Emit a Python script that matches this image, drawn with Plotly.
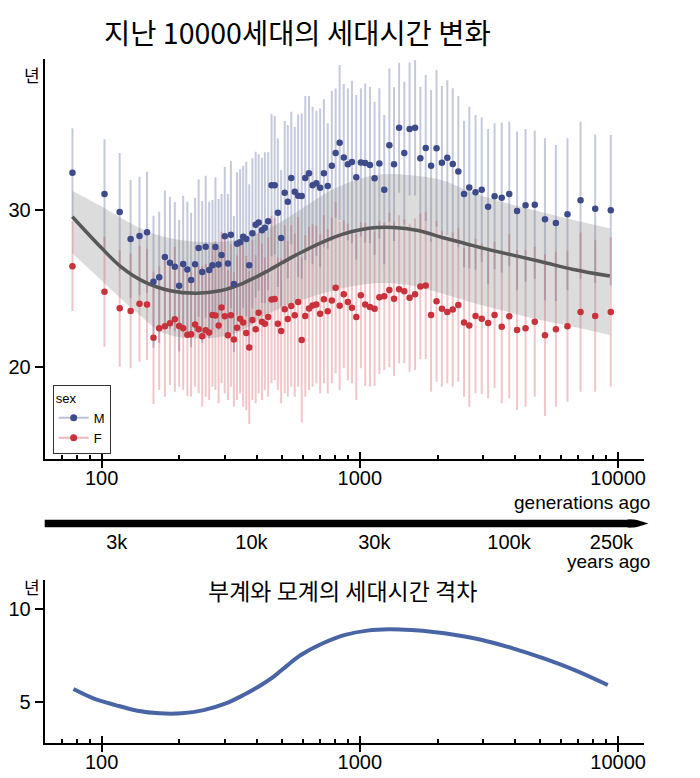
import math
import plotly.graph_objects as go

# ---------------- data ----------------
generations = [77.1, 102.6, 117.5, 129.5, 140.2, 149.9, 158.8, 167.1, 175.8, 183.9,
               192.1, 199.6, 206.9, 214.8, 222.1, 230.1, 237.5, 245.2, 253.0, 260.9,
               268.7, 275.9, 283.8, 291.4, 299.8, 308.4, 316.7, 325.2, 334.5, 343.8,
               353.3, 363.2, 372.9, 383.6, 394.9, 405.6, 417.5, 428.7, 441.5, 455.0,
               468.0, 481.4, 495.7, 511.7, 525.9, 542.5, 559.6, 576.6, 595.3, 614.5,
               635.5, 656.0, 678.5, 701.7, 725.6, 750.9, 778.8, 805.9, 835.0, 866.5,
               898.6, 931.8, 968.7, 1009, 1049, 1094, 1140, 1190, 1243, 1301,
               1356, 1419, 1486, 1558, 1636, 1715, 1799, 1887, 1981, 2078,
               2181, 2289, 2406, 2532, 2653, 2805, 2964, 3138, 3324, 3543,
               3789, 4062, 4381, 4756, 5209, 5741, 6366, 7154, 8152, 9367]

male_gt = [32.38, 31.02, 29.87, 28.15, 28.34, 28.58, 25.42, 25.70, 27.00, 26.63,
           26.38, 25.16, 26.55, 26.20, 25.53, 26.54, 27.57, 26.04, 27.65, 26.17,
           26.47, 27.64, 26.52, 27.12, 28.32, 26.58, 28.42, 25.27, 27.85, 27.94,
           28.29, 28.15, 26.47, 28.51, 29.06, 29.21, 28.70, 28.87, 29.28, 31.58,
           31.58, 29.83, 28.21, 31.11, 30.53, 32.04, 31.17, 30.91, 30.89, 32.04,
           32.35, 31.58, 31.71, 31.42, 32.35, 31.53, 32.83, 33.64, 34.30, 33.35,
           32.92, 33.07, 32.09, 33.04, 33.00, 32.88, 32.03, 32.97, 31.30, 34.14,
           32.93, 35.26, 33.64, 35.18, 35.26, 33.30, 33.96, 32.83, 33.94, 33.02,
           33.34, 32.94, 32.46, 31.02, 31.44, 31.13, 31.30, 30.21, 30.88, 30.79,
           31.02, 29.94, 30.30, 30.34, 29.41, 29.17, 29.73, 30.62, 30.08, 29.98]

male_err = [2.84, 3.50, 3.77, 3.77, 3.79, 3.87, 4.22, 4.19, 4.24, 4.22,
            4.13, 4.20, 4.36, 4.33, 4.30, 4.25, 4.39, 4.54, 4.54, 4.36,
            4.17, 4.45, 4.19, 3.90, 4.45, 4.44, 4.71, 4.35, 4.56, 4.66,
            4.54, 4.94, 5.18, 4.79, 4.66, 4.36, 4.64, 4.82, 4.41, 4.54,
            4.43, 4.75, 4.35, 4.58, 4.90, 4.24, 4.15, 5.20, 5.28, 5.24,
            4.94, 5.02, 4.64, 5.07, 4.73, 4.01, 4.79, 4.13, 4.96, 4.70,
            4.86, 5.19, 5.26, 4.74, 5.09, 5.00, 4.89, 4.81, 4.77, 4.91,
            4.91, 4.15, 4.56, 4.24, 4.33, 4.58, 4.66, 4.84, 5.00, 4.90,
            4.96, 4.84, 4.82, 4.68, 5.16, 4.94, 4.63, 4.96, 4.66, 4.79,
            4.62, 5.07, 4.88, 4.73, 5.18, 4.98, 4.86, 5.02, 4.75, 4.81]

female_gt = [26.40, 24.78, 23.72, 23.55, 24.01, 23.97, 21.83, 22.45, 22.57, 22.77,
             23.02, 22.59, 22.44, 22.03, 22.06, 22.68, 22.38, 21.93, 22.31, 22.17,
             23.29, 23.26, 22.62, 23.77, 23.21, 21.99, 23.27, 21.73, 22.48, 23.05,
             22.81, 22.14, 21.21, 22.97, 22.38, 23.44, 22.86, 22.73, 23.16, 24.28,
             24.31, 22.73, 22.27, 23.66, 23.04, 23.87, 23.28, 24.13, 21.69, 23.23,
             23.71, 23.90, 23.96, 23.37, 24.30, 23.53, 24.22, 25.04, 23.88, 24.62,
             24.12, 23.76, 23.16, 24.56, 23.96, 23.80, 23.69, 24.42, 24.49, 24.89,
             24.33, 24.93, 24.81, 24.40, 24.62, 25.12, 25.18, 23.29, 24.17, 23.69,
             23.48, 23.64, 23.93, 22.82, 22.62, 23.23, 23.05, 22.78, 23.29, 22.54,
             23.21, 22.33, 22.44, 22.86, 21.99, 22.38, 22.57, 23.48, 23.23, 23.48]

female_err = [2.86, 3.51, 3.73, 3.66, 3.71, 3.56, 4.23, 3.95, 4.50, 3.95,
              4.63, 3.88, 3.94, 3.92, 3.99, 3.97, 4.09, 4.50, 4.24, 4.31,
              4.58, 4.76, 4.97, 4.84, 4.93, 4.13, 4.56, 4.29, 4.62, 4.77,
              5.38, 4.92, 4.89, 5.11, 4.73, 5.15, 5.00, 4.24, 5.09, 5.35,
              5.18, 4.23, 4.62, 5.37, 4.96, 5.16, 5.21, 5.42, 5.28, 5.16,
              5.21, 5.19, 5.04, 5.08, 5.37, 5.25, 5.29, 5.47, 5.39, 4.73,
              5.00, 4.83, 5.30, 4.67, 5.21, 5.09, 4.93, 4.90, 4.71, 4.94,
              4.94, 4.73, 4.60, 4.73, 4.84, 4.65, 4.70, 4.90, 5.14, 4.98,
              4.56, 4.93, 4.90, 4.75, 5.19, 4.94, 4.81, 4.81, 4.68, 4.89,
              5.24, 5.11, 5.01, 4.79, 5.16, 4.95, 4.82, 5.09, 4.84, 4.77]

# smoothed average of both sexes and its confidence band
mean_gen = [77, 100, 118.6, 145.7, 184.5, 233.3, 287, 352.6, 446.7, 565,
            802, 1081, 1348, 1681, 2122, 2693, 3215, 5002, 6713, 9286]
mean_gt = [29.57, 27.57, 26.38, 25.42, 24.84, 24.68, 24.84, 25.32, 26.17, 27.12,
           28.29, 28.83, 28.89, 28.69, 28.21, 27.76, 27.44, 26.71, 26.20, 25.78]

band_gen = [76.9, 102.3, 137.3, 173.9, 233.3, 332.5, 446.7, 599, 803, 1146,
            1537, 2067, 2776, 3725, 5002, 6713, 9286]
band_hi = [31.23, 30.13, 28.93, 28.29, 27.97, 28.08, 28.83, 30.11, 31.39, 32.24,
           32.24, 31.92, 31.07, 30.43, 29.89, 29.36, 28.83]
band_lo = [27.25, 25.34, 23.42, 22.14, 21.80, 22.14, 23.40, 24.25, 24.89, 25.32,
           25.21, 24.68, 24.04, 23.50, 22.97, 22.54, 22.01]

# paternal - maternal generation-time gap
gap_gen = [77.8, 92.9, 113.2, 137.7, 167.7, 204.2, 248.5, 302.7, 354.2, 415,
           466.7, 525.5, 590.9, 719.6, 876.6, 1068, 1299, 1582, 1927, 2344,
           2972, 3911, 5152, 6790, 9120]
gap_years = [5.68, 5.18, 4.82, 4.52, 4.38, 4.38, 4.55, 4.91, 5.36, 5.90,
             6.38, 6.97, 7.51, 8.14, 8.59, 8.82, 8.89, 8.85, 8.75, 8.59,
             8.32, 7.87, 7.33, 6.70, 5.90]

# ticks
gen_major_ticks = [100, 1000, 10000]
gen_major_labels = ["100", "1000", "10000"]
gen_minor_ticks = [70, 80, 90, 200, 300, 400, 500, 600, 700, 800, 900,
                   2000, 3000, 4000, 5000, 6000, 7000, 8000, 9000]
years_major = [3000, 10000, 30000, 100000, 250000]
years_major_labels = ["3k", "10k", "30k", "100k", "250k"]
years_minor = [2000, 4000, 5000, 6000, 7000, 8000, 9000,
               20000, 40000, 50000, 60000, 70000, 80000, 90000, 200000]
top_y_ticks = [20, 30]
gap_y_ticks = [5, 10]

# ---------------- styling ----------------
PAGE_W, PAGE_H, OFF = 700, 778, 8
W, H = PAGE_W - OFF, PAGE_H - OFF
M_COLOR = "#3e4b8a"
F_COLOR = "#c9323b"
M_BAR = "rgba(62,76,138,0.30)"
F_BAR = "rgba(205,50,60,0.28)"
BAND = "rgba(128,128,128,0.28)"
MEAN_COLOR = "#585858"
GAP_COLOR = "#4a65a6"
TXT = "Liberation Sans, Arial, sans-serif"
KR = "Noto Sans CJK KR, sans-serif"

def px_x(p):
    return (p - OFF) / W

def px_y(p):
    return (PAGE_H - p) / H

X_DOMAIN = [px_x(40), px_x(645)]
X_RANGE = [1.7797, 4.1021]
YEARS_RANGE = [3.1974, 5.5262]

fig = go.Figure()

# error bars (drawn under the band)
fig.add_trace(go.Scatter(
    x=generations, y=male_gt, mode="markers", xaxis="x", yaxis="y",
    marker=dict(size=1, color="rgba(0,0,0,0)"),
    error_y=dict(type="data", array=male_err, color=M_BAR, thickness=2, width=0),
    showlegend=False, hoverinfo="skip"))
fig.add_trace(go.Scatter(
    x=generations, y=female_gt, mode="markers", xaxis="x", yaxis="y",
    marker=dict(size=1, color="rgba(0,0,0,0)"),
    error_y=dict(type="data", array=female_err, color=F_BAR, thickness=2, width=0),
    showlegend=False, hoverinfo="skip"))

# confidence band
fig.add_trace(go.Scatter(
    x=band_gen, y=band_lo, mode="lines", xaxis="x", yaxis="y",
    line=dict(width=0, shape="spline", color="rgba(0,0,0,0)"),
    showlegend=False, hoverinfo="skip"))
fig.add_trace(go.Scatter(
    x=band_gen, y=band_hi, mode="lines", xaxis="x", yaxis="y",
    line=dict(width=0, shape="spline", color="rgba(0,0,0,0)"),
    fill="tonexty", fillcolor=BAND,
    showlegend=False, hoverinfo="skip"))

# mean curve
fig.add_trace(go.Scatter(
    x=mean_gen, y=mean_gt, mode="lines", xaxis="x", yaxis="y",
    line=dict(width=3.5, shape="spline", color=MEAN_COLOR),
    showlegend=False, hoverinfo="skip"))

# points
fig.add_trace(go.Scatter(
    x=generations, y=male_gt, mode="markers", xaxis="x", yaxis="y",
    marker=dict(size=6.5, color=M_COLOR), showlegend=False, hoverinfo="skip"))
fig.add_trace(go.Scatter(
    x=generations, y=female_gt, mode="markers", xaxis="x", yaxis="y",
    marker=dict(size=6.5, color=F_COLOR), showlegend=False, hoverinfo="skip"))

# legend keys
fig.add_trace(go.Scatter(
    x=[None], y=[None], mode="lines+markers", name="M", xaxis="x", yaxis="y",
    line=dict(color="rgba(62,76,138,0.35)", width=2),
    marker=dict(size=7, color=M_COLOR)))
fig.add_trace(go.Scatter(
    x=[None], y=[None], mode="lines+markers", name="F", xaxis="x", yaxis="y",
    line=dict(color="rgba(205,50,60,0.35)", width=2),
    marker=dict(size=7, color=F_COLOR)))

# gap panel
fig.add_trace(go.Scatter(
    x=gap_gen, y=gap_years, mode="lines", xaxis="x2", yaxis="y2",
    line=dict(width=4, shape="spline", color=GAP_COLOR),
    showlegend=False, hoverinfo="skip"))

# placeholder traces to register auxiliary axes
for xa, ya in (("x3", "y3"), ("x4", "y"), ("x5", "y2")):
    fig.add_trace(go.Scatter(x=[None], y=[None], xaxis=xa, yaxis=ya,
                             mode="markers", showlegend=False, hoverinfo="skip"))

# main generation axes: inner half of the major ticks + minor ticks + labels
gen_axis = dict(
    type="log", range=X_RANGE, domain=X_DOMAIN,
    tickmode="array", tickvals=gen_major_ticks, ticktext=gen_major_labels,
    ticks="inside", ticklen=7, tickwidth=2, tickcolor="black",
    showline=True, linecolor="black", linewidth=2,
    showgrid=False, zeroline=False,
    tickfont=dict(family=TXT, size=20, color="black"),
    minor=dict(tickmode="array", tickvals=gen_minor_ticks, ticks="inside",
               ticklen=4, tickwidth=1.5, tickcolor="black", showgrid=False),
)
# overlay axes: outer half of the major ticks
outer_major = dict(
    type="log", range=X_RANGE, tickmode="array", tickvals=gen_major_ticks,
    ticks="outside", ticklen=8, tickwidth=2, tickcolor="black",
    showticklabels=False, showline=False, showgrid=False, zeroline=False,
)
y_common = dict(
    ticks="outside", ticklen=8, tickwidth=2, tickcolor="black",
    showline=True, linecolor="black", linewidth=2,
    showgrid=False, zeroline=False,
    tickfont=dict(family=TXT, size=20, color="black"),
)

fig.update_layout(
    width=W, height=H, margin=dict(l=0, r=0, t=0, b=0),
    paper_bgcolor="white", plot_bgcolor="rgba(0,0,0,0)",
    font=dict(family=TXT, size=19, color="black"),
    hovermode=False,
    xaxis=dict(anchor="y", **gen_axis),
    yaxis=dict(anchor="x", domain=[px_y(459), px_y(59)], range=[14.09, 39.65],
               tickmode="array", tickvals=top_y_ticks, **y_common),
    xaxis4=dict(overlaying="x", anchor="y", **outer_major),
    xaxis2=dict(anchor="y2", **gen_axis),
    yaxis2=dict(anchor="x2", domain=[px_y(742.7), px_y(580)], range=[2.80, 11.54],
                tickmode="array", tickvals=gap_y_ticks, **y_common),
    xaxis5=dict(overlaying="x2", anchor="y2", **outer_major),
    xaxis3=dict(anchor="y3", type="log", range=YEARS_RANGE, domain=X_DOMAIN,
                tickmode="array", tickvals=years_major, ticktext=years_major_labels,
                ticks="", showline=False, showgrid=False, zeroline=False,
                tickfont=dict(family=TXT, size=20, color="black")),
    yaxis3=dict(anchor="x3", domain=[px_y(527.5), px_y(519.5)], range=[0, 1],
                visible=False, fixedrange=True),
    legend=dict(x=px_x(48), y=px_y(385), xanchor="left", yanchor="top",
                bordercolor="#333333", borderwidth=1, bgcolor="white",
                font=dict(family=TXT, size=13, color="black"),
                title=dict(text="sex", font=dict(family=TXT, size=13, color="black")),
                itemwidth=30, tracegroupgap=0, traceorder="normal"),
)

# years-ago arrow bar
shapes = [
    dict(type="rect", xref="paper", yref="y3", x0=px_x(40), x1=px_x(632), y0=0, y1=1,
         fillcolor="black", line=dict(width=0), layer="above"),
    dict(type="path", xref="paper", yref="y3",
         path=f"M {px_x(628)},-0.3 L {px_x(649)},0.5 L {px_x(628)},1.3 Z",
         fillcolor="black", line=dict(width=0), layer="above"),
]
for v in years_major:
    lv = math.log10(v)
    shapes.append(dict(type="line", xref="x3", yref="y3", x0=lv, x1=lv, y0=-0.1, y1=1.1,
                       line=dict(color="white", width=2.5), layer="above"))
for v in years_minor:
    lv = math.log10(v)
    shapes.append(dict(type="line", xref="x3", yref="y3", x0=lv, x1=lv, y0=0, y1=0.4,
                       line=dict(color="white", width=1.5), layer="above"))
fig.update_layout(shapes=shapes)

annotations = [
    dict(text="지난 10000세대의 세대시간 변화", x=px_x(295), y=px_y(8.5), yanchor="top",
         font=dict(family=KR, size=28.5, color="black")),
    dict(text="년", x=px_x(27), y=px_y(75), font=dict(family=KR, size=17, color="black")),
    dict(text="년", x=px_x(27), y=px_y(586), font=dict(family=KR, size=17, color="black")),
    dict(text="부계와 모계의 세대시간 격차", x=px_x(340), y=px_y(590),
         font=dict(family=KR, size=23, color="black")),
    dict(text="generations ago", x=px_x(653), y=px_y(503), xanchor="right",
         font=dict(family=TXT, size=19, color="black")),
    dict(text="years ago", x=px_x(653), y=px_y(561), xanchor="right",
         font=dict(family=TXT, size=19, color="black")),
]
for a in annotations:
    a.setdefault("xanchor", "center")
    a.setdefault("yanchor", "middle")
    a.update(xref="paper", yref="paper", showarrow=False)
fig.update_layout(annotations=annotations)

fig.write_html("out.html")
